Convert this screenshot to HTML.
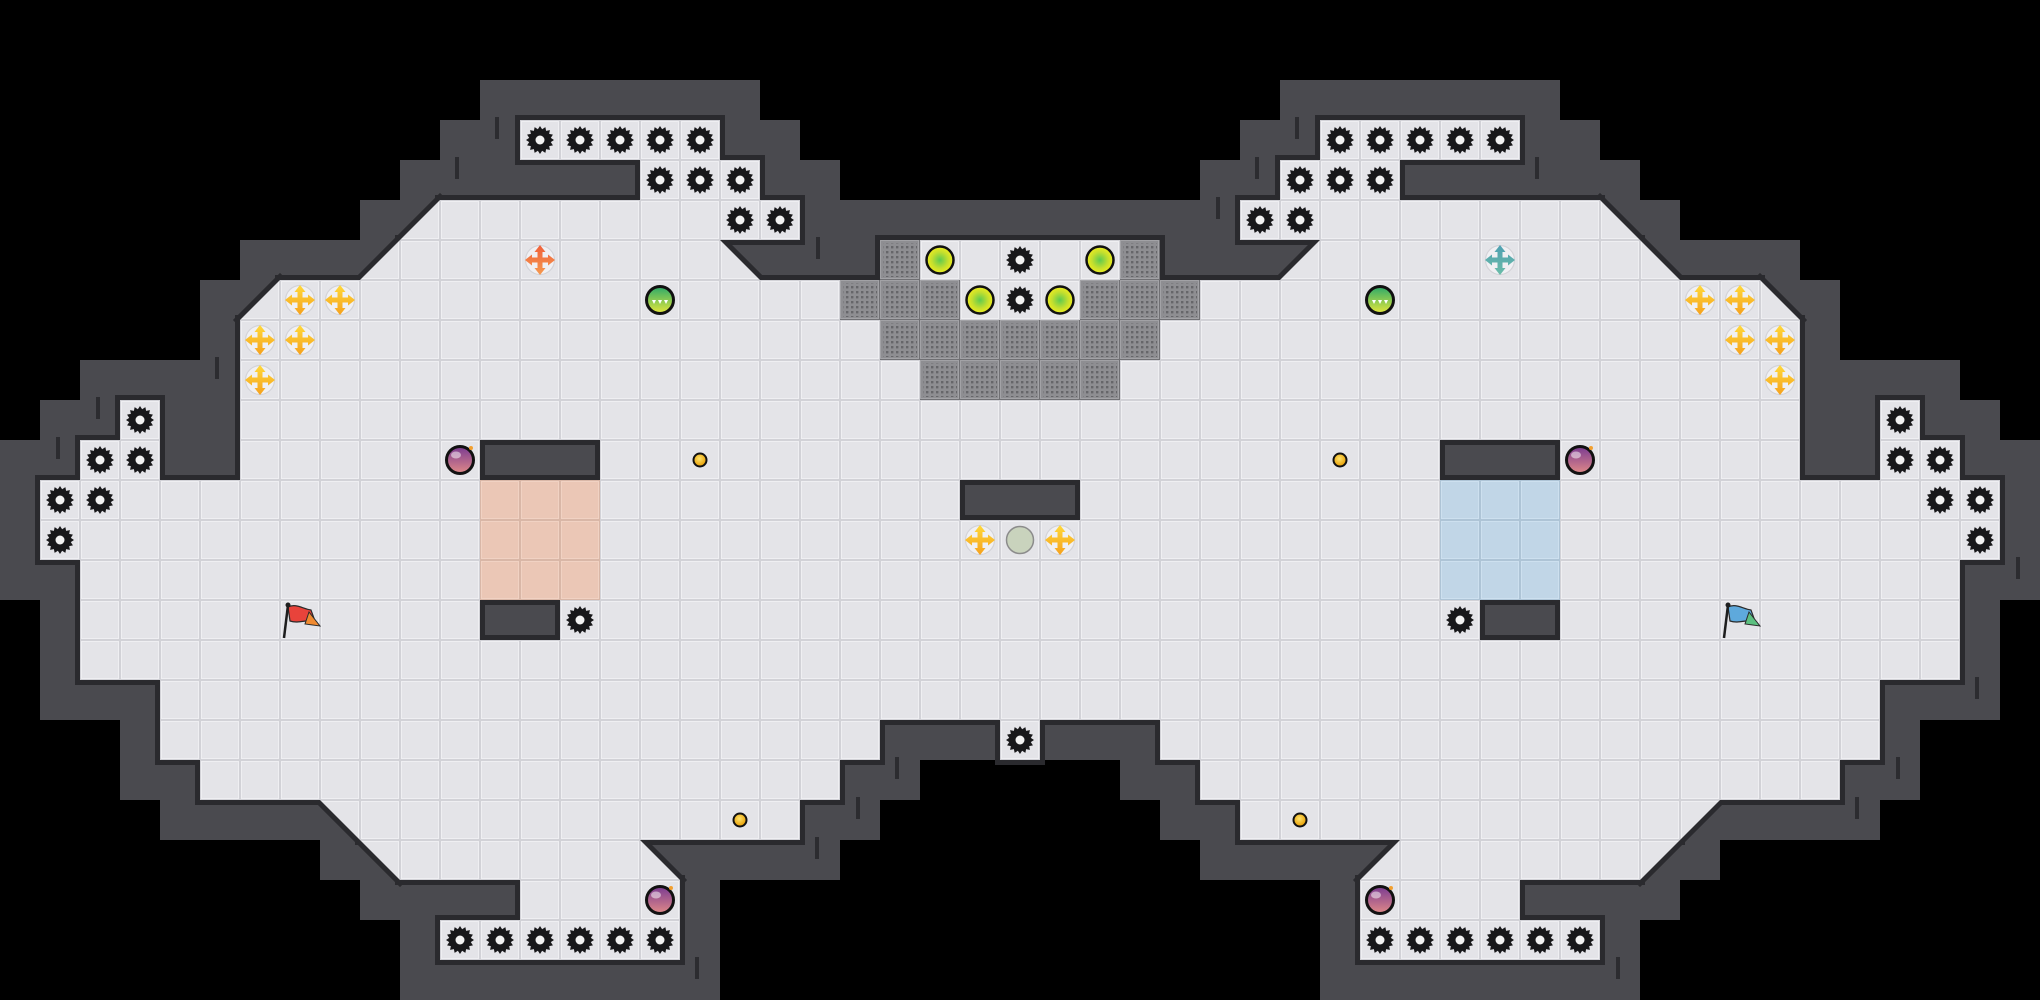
<!DOCTYPE html>
<html><head><meta charset="utf-8"><style>
html,body{margin:0;padding:0;background:#000;}
svg{display:block;}
</style></head><body>
<svg width="2040" height="1000" viewBox="0 0 2040 1000" xmlns="http://www.w3.org/2000/svg" xmlns:xlink="http://www.w3.org/1999/xlink">
<defs>
<pattern id="tile" x="0" y="0" width="40" height="40" patternUnits="userSpaceOnUse">
<rect width="40" height="40" fill="#d2d2d7"/>
<rect x="1" y="1" width="38" height="38" fill="#efeff2"/>
<rect x="2" y="2" width="36" height="36" fill="#e4e4e8"/>
</pattern>
<pattern id="rt" x="0" y="0" width="40" height="40" patternUnits="userSpaceOnUse">
<rect width="40" height="40" fill="#d9b7a7"/>
<rect x="1" y="1" width="38" height="38" fill="#f1d2c3"/>
<rect x="2" y="2" width="36" height="36" fill="#ebc7b6"/>
</pattern>
<pattern id="bt" x="0" y="0" width="40" height="40" patternUnits="userSpaceOnUse">
<rect width="40" height="40" fill="#aec4d6"/>
<rect x="1" y="1" width="38" height="38" fill="#cde0ef"/>
<rect x="2" y="2" width="36" height="36" fill="#c1d6e7"/>
</pattern>
<pattern id="dd" x="0" y="0" width="5" height="5" patternUnits="userSpaceOnUse">
<rect width="5" height="5" fill="#8e8e92"/>
<rect x="1" y="1" width="2.4" height="2.4" fill="#66666a"/>
</pattern>
<pattern id="gt" x="0" y="0" width="40" height="40" patternUnits="userSpaceOnUse">
<rect width="40" height="40" fill="#707074"/>
<rect x="0" y="0" width="39" height="39" fill="#a2a2a6"/>
<rect x="1" y="1" width="37" height="37" fill="#8e8e92"/>
<rect x="3" y="3" width="34" height="34" fill="url(#dd)"/>
</pattern>
<radialGradient id="ygc" cx="0.5" cy="0.5" r="0.5">
<stop offset="0" stop-color="#5fca4f"/><stop offset="0.6" stop-color="#c4df2e"/><stop offset="1" stop-color="#f0ee1e"/>
</radialGradient>
<linearGradient id="bombg" x1="0" y1="0" x2="0" y2="1">
<stop offset="0" stop-color="#7a3a92"/><stop offset="1" stop-color="#e08a88"/>
</linearGradient>
<linearGradient id="grb" x1="0" y1="0" x2="0" y2="1">
<stop offset="0" stop-color="#2aa96a"/><stop offset="1" stop-color="#e6e83c"/>
</linearGradient>
<linearGradient id="byl" x1="0" y1="0" x2="0" y2="1">
<stop offset="0" stop-color="#ffd93a"/><stop offset="1" stop-color="#f5a11e"/>
</linearGradient>
<linearGradient id="bor" x1="0" y1="0" x2="0" y2="1">
<stop offset="0" stop-color="#f0603a"/><stop offset="1" stop-color="#f59a50"/>
</linearGradient>
<linearGradient id="btl" x1="0" y1="0" x2="0" y2="1">
<stop offset="0" stop-color="#4fa0b2"/><stop offset="1" stop-color="#6bbca8"/>
</linearGradient>
<radialGradient id="dotg" cx="0.45" cy="0.4" r="0.6">
<stop offset="0" stop-color="#ffe46a"/><stop offset="1" stop-color="#e69a00"/>
</radialGradient>
<path id="arrow" d="M-2.5,-8 L-5.5,-8 L0,-15 L5.5,-8 L2.5,-8 L2.5,-2.5 L8,-2.5 L8,-5.5 L15,0 L8,5.5 L8,2.5 L2.5,2.5 L2.5,8 L5.5,8 L0,15 L-5.5,8 L-2.5,8 L-2.5,2.5 L-8,2.5 L-8,5.5 L-15,0 L-8,-5.5 L-8,-2.5 L-2.5,-2.5 Z"/>
<g id="boostY" transform="translate(20,20)"><circle r="14.5" fill="#f0f0f3" stroke="#d3d3d8" stroke-width="1.2"/><use xlink:href="#arrow" fill="url(#byl)"/></g>
<g id="boostO" transform="translate(20,20)"><circle r="14.5" fill="#f0f0f3" stroke="#d3d3d8" stroke-width="1.2"/><use xlink:href="#arrow" fill="url(#bor)"/></g>
<g id="boostT" transform="translate(20,20)"><circle r="14.5" fill="#f0f0f3" stroke="#d3d3d8" stroke-width="1.2"/><use xlink:href="#arrow" fill="url(#btl)"/></g>
<g id="gear" transform="translate(20,20)">
<polygon fill="#18181a" points="14,0 10.79,2.15 12.93,5.36 9.15,6.11 9.9,9.9 6.11,9.15 5.36,12.93 2.15,10.79 0,14 -2.15,10.79 -5.36,12.93 -6.11,9.15 -9.9,9.9 -9.15,6.11 -12.93,5.36 -10.79,2.15 -14,0 -10.79,-2.15 -12.93,-5.36 -9.15,-6.11 -9.9,-9.9 -6.11,-9.15 -5.36,-12.93 -2.15,-10.79 0,-14 2.15,-10.79 5.36,-12.93 6.11,-9.15 9.9,-9.9 9.15,-6.11 12.93,-5.36 10.79,-2.15"/>
<circle r="4.5" fill="#f2f2f2"/>
</g>
<g id="ygcirc" transform="translate(20,20)"><circle r="13.5" fill="url(#ygc)" stroke="#111" stroke-width="2.5"/></g>
<g id="bomb" transform="translate(20,20)">
<circle r="13.5" fill="url(#bombg)" stroke="#111" stroke-width="3"/>
<ellipse cx="-4" cy="-5" rx="5" ry="3.5" fill="#fff" opacity="0.5"/>
<circle cx="11" cy="-12" r="2" fill="#f2a030"/>
</g>
<g id="gball" transform="translate(20,20)">
<circle r="13.5" fill="url(#grb)" stroke="#111" stroke-width="3"/>
<polygon points="-8,0 -4,0 -6,4" fill="#fff"/>
<polygon points="-2,0 2,0 0,4" fill="#fff"/>
<polygon points="4,0 8,0 6,4" fill="#fff"/>
</g>
<g id="ydot" transform="translate(20,20)"><circle r="6.5" fill="url(#dotg)" stroke="#111" stroke-width="2"/></g>
<g id="fl">
<rect x="520" y="120" width="200" height="40"/>
<rect x="1320" y="120" width="200" height="40"/>
<rect x="640" y="160" width="120" height="40"/>
<rect x="1280" y="160" width="120" height="40"/>
<rect x="440" y="200" width="360" height="40"/>
<rect x="1240" y="200" width="360" height="40"/>
<rect x="400" y="240" width="320" height="40"/>
<rect x="880" y="240" width="280" height="40"/>
<rect x="1320" y="240" width="320" height="40"/>
<rect x="280" y="280" width="1480" height="40"/>
<rect x="240" y="320" width="1560" height="80"/>
<rect x="120" y="400" width="40" height="40"/>
<rect x="240" y="400" width="1560" height="40"/>
<rect x="1880" y="400" width="40" height="40"/>
<rect x="80" y="440" width="80" height="40"/>
<rect x="240" y="440" width="240" height="40"/>
<rect x="600" y="440" width="840" height="40"/>
<rect x="1560" y="440" width="240" height="40"/>
<rect x="1880" y="440" width="80" height="40"/>
<rect x="40" y="480" width="920" height="40"/>
<rect x="1080" y="480" width="920" height="40"/>
<rect x="40" y="520" width="1960" height="40"/>
<rect x="80" y="560" width="1880" height="40"/>
<rect x="80" y="600" width="400" height="40"/>
<rect x="560" y="600" width="920" height="40"/>
<rect x="1560" y="600" width="400" height="40"/>
<rect x="80" y="640" width="1880" height="40"/>
<rect x="160" y="680" width="1720" height="40"/>
<rect x="160" y="720" width="720" height="40"/>
<rect x="1000" y="720" width="40" height="40"/>
<rect x="1160" y="720" width="720" height="40"/>
<rect x="200" y="760" width="640" height="40"/>
<rect x="1200" y="760" width="640" height="40"/>
<rect x="360" y="800" width="440" height="40"/>
<rect x="1240" y="800" width="440" height="40"/>
<rect x="400" y="840" width="240" height="40"/>
<rect x="1400" y="840" width="240" height="40"/>
<rect x="520" y="880" width="160" height="40"/>
<rect x="1360" y="880" width="160" height="40"/>
<rect x="440" y="920" width="240" height="40"/>
<rect x="1360" y="920" width="240" height="40"/>
</g>
<g id="tri">
<polygon points="440,200 440,240 400,240"/>
<polygon points="400,240 400,280 360,280"/>
<polygon points="280,280 280,320 240,320"/>
<polygon points="1600,200 1640,240 1600,240"/>
<polygon points="1640,240 1680,280 1640,280"/>
<polygon points="1760,280 1800,320 1760,320"/>
<polygon points="720,240 760,280 720,280"/>
<polygon points="1320,240 1320,280 1280,280"/>
<polygon points="320,800 360,800 360,840"/>
<polygon points="360,840 400,840 400,880"/>
<polygon points="640,840 680,880 640,880"/>
<polygon points="1680,800 1720,800 1680,840"/>
<polygon points="1640,840 1680,840 1640,880"/>
<polygon points="1400,840 1400,880 1360,880"/>
</g>
</defs>

<rect width="2040" height="1000" fill="#000"/>

<g fill="#4a4a4f">
<rect x="480" y="80" width="280" height="40"/><rect x="1280" y="80" width="280" height="40"/>
<rect x="440" y="120" width="80" height="40"/><rect x="720" y="120" width="80" height="40"/><rect x="1240" y="120" width="80" height="40"/><rect x="1520" y="120" width="80" height="40"/>
<rect x="400" y="160" width="240" height="40"/><rect x="760" y="160" width="80" height="40"/><rect x="1200" y="160" width="80" height="40"/><rect x="1400" y="160" width="240" height="40"/>
<rect x="360" y="200" width="80" height="40"/><rect x="800" y="200" width="440" height="40"/><rect x="1600" y="200" width="80" height="40"/>
<rect x="240" y="240" width="160" height="40"/><rect x="720" y="240" width="160" height="40"/><rect x="1160" y="240" width="160" height="40"/><rect x="1640" y="240" width="160" height="40"/>
<rect x="200" y="280" width="80" height="40"/><rect x="1760" y="280" width="80" height="40"/>
<rect x="200" y="320" width="40" height="40"/><rect x="1800" y="320" width="40" height="40"/>
<rect x="80" y="360" width="160" height="40"/><rect x="1800" y="360" width="160" height="40"/>
<rect x="40" y="400" width="80" height="40"/><rect x="160" y="400" width="80" height="40"/><rect x="1800" y="400" width="80" height="40"/><rect x="1920" y="400" width="80" height="40"/>
<rect x="0" y="440" width="80" height="40"/><rect x="160" y="440" width="80" height="40"/><rect x="480" y="440" width="120" height="40"/><rect x="1440" y="440" width="120" height="40"/><rect x="1800" y="440" width="80" height="40"/><rect x="1960" y="440" width="80" height="40"/>
<rect x="0" y="480" width="40" height="40"/><rect x="960" y="480" width="120" height="40"/><rect x="2000" y="480" width="40" height="40"/>
<rect x="0" y="520" width="40" height="40"/><rect x="2000" y="520" width="40" height="40"/>
<rect x="0" y="560" width="80" height="40"/><rect x="1960" y="560" width="80" height="40"/>
<rect x="40" y="600" width="40" height="40"/><rect x="480" y="600" width="80" height="40"/><rect x="1480" y="600" width="80" height="40"/><rect x="1960" y="600" width="40" height="40"/>
<rect x="40" y="640" width="40" height="40"/><rect x="1960" y="640" width="40" height="40"/>
<rect x="40" y="680" width="120" height="40"/><rect x="1880" y="680" width="120" height="40"/>
<rect x="120" y="720" width="40" height="40"/><rect x="880" y="720" width="120" height="40"/><rect x="1040" y="720" width="120" height="40"/><rect x="1880" y="720" width="40" height="40"/>
<rect x="120" y="760" width="80" height="40"/><rect x="840" y="760" width="80" height="40"/><rect x="1120" y="760" width="80" height="40"/><rect x="1840" y="760" width="80" height="40"/>
<rect x="160" y="800" width="200" height="40"/><rect x="800" y="800" width="80" height="40"/><rect x="1160" y="800" width="80" height="40"/><rect x="1680" y="800" width="200" height="40"/>
<rect x="320" y="840" width="80" height="40"/><rect x="640" y="840" width="200" height="40"/><rect x="1200" y="840" width="200" height="40"/><rect x="1640" y="840" width="80" height="40"/>
<rect x="360" y="880" width="160" height="40"/><rect x="680" y="880" width="40" height="40"/><rect x="1320" y="880" width="40" height="40"/><rect x="1520" y="880" width="160" height="40"/>
<rect x="400" y="920" width="40" height="40"/><rect x="680" y="920" width="40" height="40"/><rect x="1320" y="920" width="40" height="40"/><rect x="1600" y="920" width="40" height="40"/>
<rect x="400" y="960" width="320" height="40"/><rect x="1320" y="960" width="320" height="40"/>
</g>

<g fill="#2c2c30">
<rect x="495" y="117" width="4" height="22"/><rect x="455" y="157" width="4" height="22"/>
<rect x="215" y="357" width="4" height="22"/><rect x="96" y="397" width="4" height="22"/>
<rect x="56" y="437" width="4" height="22"/><rect x="816" y="237" width="4" height="22"/>
<rect x="1295" y="117" width="4" height="22"/><rect x="1255" y="157" width="4" height="22"/>
<rect x="1216" y="197" width="4" height="22"/><rect x="1535" y="157" width="4" height="22"/>
<rect x="895" y="757" width="4" height="22"/><rect x="856" y="797" width="4" height="22"/>
<rect x="815" y="837" width="4" height="22"/><rect x="695" y="957" width="4" height="22"/>
<rect x="2016" y="557" width="4" height="22"/><rect x="1975" y="677" width="4" height="22"/>
<rect x="1896" y="757" width="4" height="22"/><rect x="1855" y="797" width="4" height="22"/>
<rect x="1616" y="957" width="4" height="22"/>
</g>

<g stroke="#2a2a2e" stroke-width="10" stroke-linecap="square" fill="none">
<line x1="440" y1="200" x2="360" y2="280"/>
<line x1="280" y1="280" x2="240" y2="320"/>
<line x1="1600" y1="200" x2="1680" y2="280"/>
<line x1="1760" y1="280" x2="1800" y2="320"/>
<line x1="720" y1="240" x2="760" y2="280"/>
<line x1="1320" y1="240" x2="1280" y2="280"/>
<line x1="320" y1="800" x2="400" y2="880"/>
<line x1="640" y1="840" x2="680" y2="880"/>
<line x1="1720" y1="800" x2="1640" y2="880"/>
<line x1="1400" y1="840" x2="1360" y2="880"/>
</g>

<use xlink:href="#fl" fill="#2a2a2e" stroke="#2a2a2e" stroke-width="10"/>
<use xlink:href="#fl" fill="url(#tile)"/>
<use xlink:href="#tri" fill="url(#tile)"/>

<rect x="480" y="480" width="120" height="120" fill="url(#rt)"/>
<rect x="1440" y="480" width="120" height="120" fill="url(#bt)"/>

<g fill="url(#gt)">
<rect x="880" y="240" width="40" height="40"/><rect x="1120" y="240" width="40" height="40"/>
<rect x="840" y="280" width="120" height="40"/><rect x="1080" y="280" width="120" height="40"/>
<rect x="880" y="320" width="280" height="40"/>
<rect x="920" y="360" width="200" height="40"/>
</g>

<use xlink:href="#gear" x="520" y="120"/><use xlink:href="#gear" x="560" y="120"/><use xlink:href="#gear" x="600" y="120"/><use xlink:href="#gear" x="640" y="120"/><use xlink:href="#gear" x="680" y="120"/>
<use xlink:href="#gear" x="1320" y="120"/><use xlink:href="#gear" x="1360" y="120"/><use xlink:href="#gear" x="1400" y="120"/><use xlink:href="#gear" x="1440" y="120"/><use xlink:href="#gear" x="1480" y="120"/>
<use xlink:href="#gear" x="640" y="160"/><use xlink:href="#gear" x="680" y="160"/><use xlink:href="#gear" x="720" y="160"/>
<use xlink:href="#gear" x="1280" y="160"/><use xlink:href="#gear" x="1320" y="160"/><use xlink:href="#gear" x="1360" y="160"/>
<use xlink:href="#gear" x="720" y="200"/><use xlink:href="#gear" x="760" y="200"/>
<use xlink:href="#gear" x="1240" y="200"/><use xlink:href="#gear" x="1280" y="200"/>
<use xlink:href="#gear" x="1000" y="240"/><use xlink:href="#gear" x="1000" y="280"/>
<use xlink:href="#gear" x="120" y="400"/><use xlink:href="#gear" x="1880" y="400"/>
<use xlink:href="#gear" x="80" y="440"/><use xlink:href="#gear" x="120" y="440"/><use xlink:href="#gear" x="1880" y="440"/><use xlink:href="#gear" x="1920" y="440"/>
<use xlink:href="#gear" x="40" y="480"/><use xlink:href="#gear" x="80" y="480"/><use xlink:href="#gear" x="1920" y="480"/><use xlink:href="#gear" x="1960" y="480"/>
<use xlink:href="#gear" x="40" y="520"/><use xlink:href="#gear" x="1960" y="520"/>
<use xlink:href="#gear" x="560" y="600"/><use xlink:href="#gear" x="1440" y="600"/>
<use xlink:href="#gear" x="1000" y="720"/>
<use xlink:href="#gear" x="440" y="920"/><use xlink:href="#gear" x="480" y="920"/><use xlink:href="#gear" x="520" y="920"/><use xlink:href="#gear" x="560" y="920"/><use xlink:href="#gear" x="600" y="920"/><use xlink:href="#gear" x="640" y="920"/>
<use xlink:href="#gear" x="1360" y="920"/><use xlink:href="#gear" x="1400" y="920"/><use xlink:href="#gear" x="1440" y="920"/><use xlink:href="#gear" x="1480" y="920"/><use xlink:href="#gear" x="1520" y="920"/><use xlink:href="#gear" x="1560" y="920"/>

<use xlink:href="#ygcirc" x="920" y="240"/><use xlink:href="#ygcirc" x="1080" y="240"/>
<use xlink:href="#ygcirc" x="960" y="280"/><use xlink:href="#ygcirc" x="1040" y="280"/>

<use xlink:href="#boostY" x="280" y="280"/><use xlink:href="#boostY" x="320" y="280"/>
<use xlink:href="#boostY" x="240" y="320"/><use xlink:href="#boostY" x="280" y="320"/>
<use xlink:href="#boostY" x="240" y="360"/>
<use xlink:href="#boostY" x="1680" y="280"/><use xlink:href="#boostY" x="1720" y="280"/>
<use xlink:href="#boostY" x="1720" y="320"/><use xlink:href="#boostY" x="1760" y="320"/>
<use xlink:href="#boostY" x="1760" y="360"/>
<use xlink:href="#boostY" x="960" y="520"/><use xlink:href="#boostY" x="1040" y="520"/>
<use xlink:href="#boostO" x="520" y="240"/>
<use xlink:href="#boostT" x="1480" y="240"/>

<circle cx="1020" cy="540" r="13.5" fill="#c9d3bd" stroke="#8c8c8c" stroke-width="1.5"/>

<use xlink:href="#bomb" x="440" y="440"/><use xlink:href="#bomb" x="1560" y="440"/>
<use xlink:href="#bomb" x="640" y="880"/><use xlink:href="#bomb" x="1360" y="880"/>

<use xlink:href="#gball" x="640" y="280"/><use xlink:href="#gball" x="1360" y="280"/>

<use xlink:href="#ydot" x="680" y="440"/><use xlink:href="#ydot" x="1320" y="440"/>
<use xlink:href="#ydot" x="720" y="800"/><use xlink:href="#ydot" x="1280" y="800"/>

<g>
<path d="M288,607 C296,603 303,609 311,610 L315,621 C307,619 299,624 290,621 Z" fill="#e8433b" stroke="#2a2a2a" stroke-width="1.2"/>
<path d="M309,612 L320,626 L305,624 Z" fill="#f08a30" stroke="#2a2a2a" stroke-width="1"/>
<line x1="288" y1="605" x2="284" y2="638" stroke="#1e1e1e" stroke-width="2.5"/>
<circle cx="288" cy="605" r="2.5" fill="#1e1e1e"/>
</g>
<g>
<path d="M1728,607 C1736,603 1743,609 1751,610 L1755,621 C1747,619 1739,624 1730,621 Z" fill="#5ea9dc" stroke="#2a2a2a" stroke-width="1.2"/>
<path d="M1749,612 L1760,626 L1745,624 Z" fill="#5cc080" stroke="#2a2a2a" stroke-width="1"/>
<line x1="1728" y1="605" x2="1724" y2="638" stroke="#1e1e1e" stroke-width="2.5"/>
<circle cx="1728" cy="605" r="2.5" fill="#1e1e1e"/>
</g>
</svg>
</body></html>
